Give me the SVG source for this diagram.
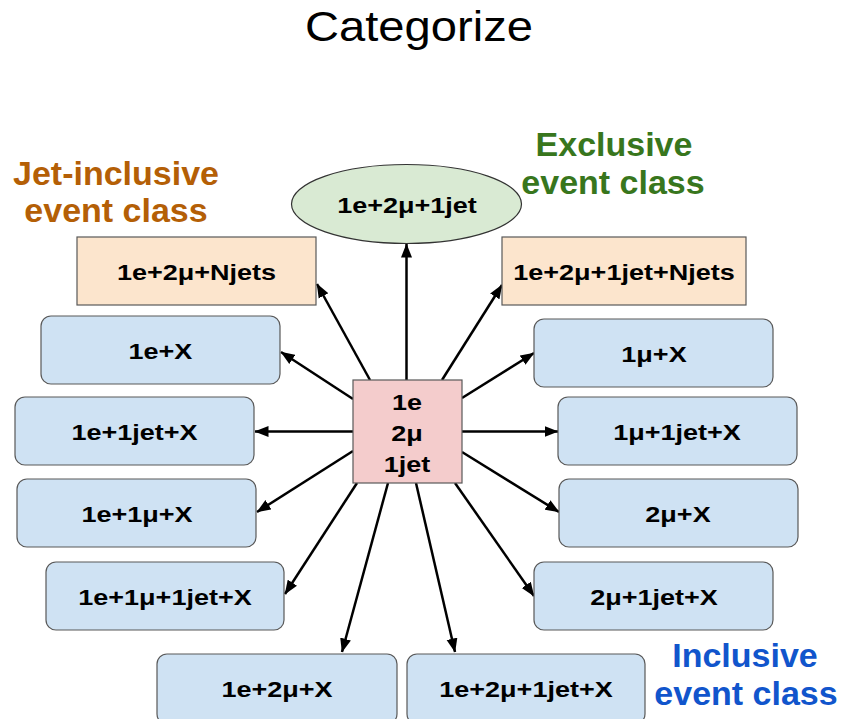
<svg xmlns="http://www.w3.org/2000/svg" width="842" height="719" viewBox="0 0 842 719">
  <defs>
    <style>
      .lbl { font-family: "Liberation Sans", Arial, sans-serif; font-weight: bold; font-size: 22.5px; fill: #000; text-anchor: middle; }
      .head { font-family: "Liberation Sans", Arial, sans-serif; font-weight: bold; font-size: 34px; text-anchor: middle; }
      .title { font-family: "Liberation Sans", Arial, sans-serif; font-size: 42px; fill: #000; text-anchor: middle; }
      .blue { fill: #cfe2f3; stroke: #595959; stroke-width: 1.2; }
      .orange { fill: #fce5cd; stroke: #595959; stroke-width: 1.2; }
      .green { fill: #d9ead3; stroke: #333; stroke-width: 1.2; }
      .pink { fill: #f4cccc; stroke: #595959; stroke-width: 1.2; }
      .conn line { stroke: #000; stroke-width: 2.5; fill: none; marker-end: url(#arr); }
    </style>
    <marker id="arr" markerUnits="userSpaceOnUse" markerWidth="14" markerHeight="12" viewBox="0 0 14 12" refX="13.5" refY="6" orient="auto">
      <path d="M0,0.5 L14,6 L0,11.5 Z" fill="#000"/>
    </marker>
  </defs>

  <rect width="842" height="719" fill="#fff"/>

  <text class="title" x="419" y="41" textLength="228" lengthAdjust="spacingAndGlyphs">Categorize</text>

  <g id="heading-jet-inclusive">
    <text class="head" x="116" y="185" fill="#b45f06">Jet-inclusive</text>
    <text class="head" x="116" y="222" fill="#b45f06">event class</text>
  </g>
  <g id="heading-exclusive">
    <text class="head" x="614" y="156" fill="#38761d">Exclusive</text>
    <text class="head" x="613" y="194" fill="#38761d">event class</text>
  </g>
  <g id="heading-inclusive">
    <text class="head" x="745" y="667" fill="#1155cc">Inclusive</text>
    <text class="head" x="746" y="705" fill="#1155cc">event class</text>
  </g>

  <g class="conn" id="connectors">
    <line x1="406.5" y1="380" x2="406.5" y2="244"/>
    <line x1="370" y1="380" x2="317" y2="284"/>
    <line x1="442" y1="380" x2="502" y2="285"/>
    <line x1="353" y1="399" x2="281" y2="352"/>
    <line x1="462" y1="398" x2="534" y2="353"/>
    <line x1="353" y1="431.5" x2="255" y2="431.5"/>
    <line x1="462" y1="431.5" x2="558" y2="431.5"/>
    <line x1="353" y1="451" x2="257" y2="512"/>
    <line x1="462" y1="452" x2="559" y2="512"/>
    <line x1="357" y1="483" x2="285" y2="594"/>
    <line x1="455" y1="483" x2="534" y2="596"/>
    <line x1="388" y1="483" x2="342" y2="652"/>
    <line x1="416" y1="483" x2="455" y2="652"/>
  </g>

  <g id="n-exclusive">
    <ellipse class="green" cx="406.5" cy="204" rx="115" ry="39.5"/>
    <text class="lbl" x="407" y="213" textLength="139.6" lengthAdjust="spacingAndGlyphs">1e+2μ+1jet</text>
  </g>
  <g id="n-jet-left">
    <rect class="orange" x="77" y="237" width="239" height="68"/>
    <text class="lbl" x="196.5" y="280" textLength="159.1" lengthAdjust="spacingAndGlyphs">1e+2μ+Njets</text>
  </g>
  <g id="n-jet-right">
    <rect class="orange" x="502" y="237" width="244" height="68"/>
    <text class="lbl" x="624" y="280" textLength="221.4" lengthAdjust="spacingAndGlyphs">1e+2μ+1jet+Njets</text>
  </g>

  <g id="n-1e-X">
    <rect class="blue" x="41" y="316" width="239" height="68" rx="10"/>
    <text class="lbl" x="160.5" y="359" textLength="63.8" lengthAdjust="spacingAndGlyphs">1e+X</text>
  </g>
  <g id="n-1mu-X">
    <rect class="blue" x="534" y="319" width="239" height="68" rx="10"/>
    <text class="lbl" x="654" y="362" textLength="65.3" lengthAdjust="spacingAndGlyphs">1μ+X</text>
  </g>
  <g id="n-1e-1jet-X">
    <rect class="blue" x="15" y="397" width="239" height="68" rx="10"/>
    <text class="lbl" x="134.5" y="440" textLength="126.1" lengthAdjust="spacingAndGlyphs">1e+1jet+X</text>
  </g>
  <g id="n-1mu-1jet-X">
    <rect class="blue" x="558" y="397" width="239" height="68" rx="10"/>
    <text class="lbl" x="677" y="440" textLength="127.6" lengthAdjust="spacingAndGlyphs">1μ+1jet+X</text>
  </g>
  <g id="n-1e-1mu-X">
    <rect class="blue" x="17" y="479" width="239" height="68" rx="10"/>
    <text class="lbl" x="137" y="522" textLength="111.1" lengthAdjust="spacingAndGlyphs">1e+1μ+X</text>
  </g>
  <g id="n-2mu-X">
    <rect class="blue" x="559" y="479" width="239" height="68" rx="10"/>
    <text class="lbl" x="678" y="522" textLength="65.3" lengthAdjust="spacingAndGlyphs">2μ+X</text>
  </g>
  <g id="n-1e-1mu-1jet-X">
    <rect class="blue" x="46" y="562" width="238" height="68" rx="10"/>
    <text class="lbl" x="165" y="605" textLength="173.4" lengthAdjust="spacingAndGlyphs">1e+1μ+1jet+X</text>
  </g>
  <g id="n-2mu-1jet-X">
    <rect class="blue" x="534" y="562" width="239" height="68" rx="10"/>
    <text class="lbl" x="654" y="605" textLength="127.6" lengthAdjust="spacingAndGlyphs">2μ+1jet+X</text>
  </g>
  <g id="n-1e-2mu-X">
    <rect class="blue" x="157" y="654" width="240" height="70" rx="10"/>
    <text class="lbl" x="277" y="697" textLength="111.1" lengthAdjust="spacingAndGlyphs">1e+2μ+X</text>
  </g>
  <g id="n-1e-2mu-1jet-X">
    <rect class="blue" x="407" y="654" width="238" height="70" rx="10"/>
    <text class="lbl" x="526" y="697" textLength="173.4" lengthAdjust="spacingAndGlyphs">1e+2μ+1jet+X</text>
  </g>

  <g id="n-event">
    <rect class="pink" x="353" y="380" width="109" height="103"/>
    <text class="lbl" x="407" y="410" textLength="30" lengthAdjust="spacingAndGlyphs">1e</text>
    <text class="lbl" x="407" y="441" textLength="31.5" lengthAdjust="spacingAndGlyphs">2μ</text>
    <text class="lbl" x="407" y="472" textLength="46.5" lengthAdjust="spacingAndGlyphs">1jet</text>
  </g>
</svg>
